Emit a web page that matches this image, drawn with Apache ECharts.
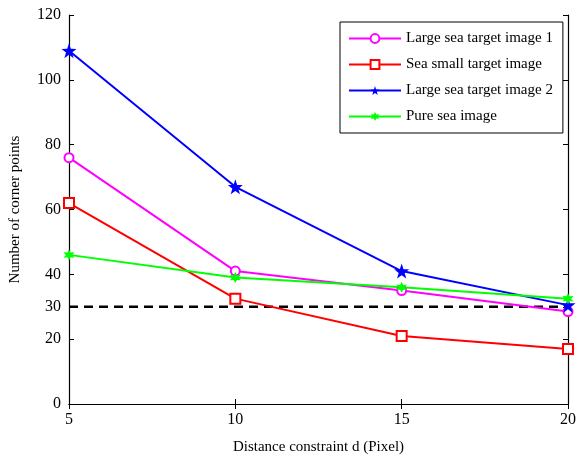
<!DOCTYPE html>
<html>
<head>
<meta charset="utf-8">
<script src="https://cdn.jsdelivr.net/npm/echarts@6/dist/echarts.min.js"></script>
<style>
  html, body { margin: 0; padding: 0; background: #fff; }
  #chart { width: 579px; height: 463px; }
</style>
</head>
<body>
<div id="chart"></div>
<script>
// 距离约束
const xValues = [5, 10, 15, 20];
const yTicks = [0, 20, 30, 40, 60, 80, 100, 120];
const large1 = [76, 41, 35, 28.5];
const seaSmall = [62, 32.5, 21, 17];
const large2 = [109, 67, 41, 30.5];
const pureSea = [46, 39, 36, 32.5];
const threshold = 30;

const starPath = 'path://M0,-10 L2.35,-3.24 L9.51,-3.09 L3.8,1.24 L5.88,8.09 L0,4 L-5.88,8.09 L-3.8,1.24 L-9.51,-3.09 L-2.35,-3.24 Z';
const hexPath = 'path://M0,-10 L2.5,-4.33 L8.66,-5 L5,0 L8.66,5 L2.5,4.33 L0,10 L-2.5,4.33 L-8.66,5 L-5,0 L-8.66,-5 L-2.5,-4.33 Z';

const pair = arr => arr.map((v, i) => [xValues[i], v]);
const font = 'Liberation Serif';

let myChart = echarts.init(document.getElementById('chart'));
let option = {
  animation: false,
  grid: { left: 69, right: 8, top: 15, bottom: 59 },
  legend: {
    data: ['Large sea target image 1', 'Sea small target image', 'Large sea target image 2', 'Pure sea image'],
    orient: 'vertical',
    left: 340,
    top: 22,
    itemWidth: 52,
    itemHeight: 11,
    itemGap: 11,
    padding: [9, 10, 9, 8],
    borderColor: '#000',
    borderWidth: 1,
    backgroundColor: '#fff',
    textStyle: { fontFamily: font, fontSize: 15, color: '#000' }
  },
  xAxis: [{
    type: 'value',
    min: 5,
    max: 20,
    interval: 5,
    name: 'Distance constraint d (Pixel)',
    nameLocation: 'middle',
    nameGap: 36,
    nameTextStyle: { fontFamily: font, fontSize: 15, color: '#000' },
    axisLine: { lineStyle: { color: '#000', width: 1.2 } },
    axisTick: { inside: true, length: 5, lineStyle: { color: '#000' } },
    axisLabel: { fontFamily: font, fontSize: 16, color: '#000', margin: 8 },
    splitLine: { show: false }
  }, {
    type: 'value',
    position: 'top',
    min: 5,
    max: 20,
    interval: 5,
    axisLine: { lineStyle: { color: '#000', width: 1.2 } },
    axisTick: { inside: true, length: 5, lineStyle: { color: '#000' } },
    axisLabel: { show: false },
    splitLine: { show: false }
  }],
  yAxis: [{
    type: 'value',
    min: 0,
    max: 120,
    name: 'Number of corner points',
    nameLocation: 'middle',
    nameGap: 46,
    nameTextStyle: { fontFamily: font, fontSize: 15, color: '#000' },
    axisLine: { show: true, lineStyle: { color: '#000', width: 1.2 } },
    axisTick: { show: true, inside: true, length: 5, customValues: yTicks, lineStyle: { color: '#000' } },
    axisLabel: { fontFamily: font, fontSize: 16, color: '#000', customValues: yTicks, margin: 8 },
    splitLine: { show: false }
  }, {
    type: 'value',
    position: 'right',
    min: 0,
    max: 120,
    axisLine: { show: true, lineStyle: { color: '#000', width: 1.2 } },
    axisTick: { show: true, inside: true, length: 5, customValues: yTicks, lineStyle: { color: '#000' } },
    axisLabel: { show: false },
    splitLine: { show: false }
  }],
  series: [{
    name: 'threshold',
    type: 'line',
    data: pair([threshold, threshold, threshold, threshold]),
    symbol: 'none',
    lineStyle: { color: '#000', width: 2.5, type: [9, 6] },
    z: 1
  }, {
    name: 'Large sea target image 1',
    type: 'line',
    data: pair(large1),
    symbol: 'circle',
    symbolSize: 9,
    itemStyle: { color: '#fff', borderColor: '#ff00ff', borderWidth: 2 },
    lineStyle: { color: '#ff00ff', width: 2 },
    z: 3
  }, {
    name: 'Sea small target image',
    type: 'line',
    data: pair(seaSmall),
    symbol: 'rect',
    symbolSize: 10,
    itemStyle: { color: '#fff', borderColor: '#ff0000', borderWidth: 2 },
    lineStyle: { color: '#ff0000', width: 2 },
    z: 3
  }, {
    name: 'Large sea target image 2',
    type: 'line',
    data: pair(large2),
    symbol: starPath,
    symbolSize: 15,
    itemStyle: { color: '#0000ff' },
    lineStyle: { color: '#0000ff', width: 2 },
    z: 3
  }, {
    name: 'Pure sea image',
    type: 'line',
    data: pair(pureSea),
    symbol: hexPath,
    symbolSize: 11,
    itemStyle: { color: '#00ff00' },
    lineStyle: { color: '#00ff00', width: 2 },
    z: 3
  }]
};
myChart.setOption(option);
</script>
</body>
</html>
